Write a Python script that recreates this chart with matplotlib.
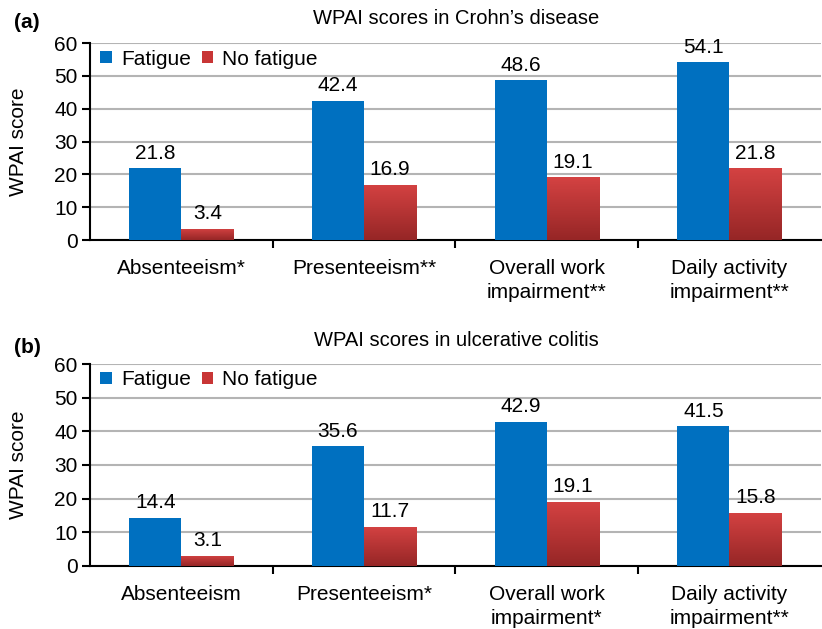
import matplotlib
matplotlib.use("Agg")
import matplotlib.pyplot as plt
import numpy as np
from matplotlib.colors import LinearSegmentedColormap

plt.rcParams['font.family'] = ['Liberation Sans', 'DejaVu Sans']

# data
cats_cd = ["Absenteeism*", "Presenteeism**", "Overall work\nimpairment**", "Daily activity\nimpairment**"]
fatigue_cd = [21.8, 42.4, 48.6, 54.1]
nofatigue_cd = [3.4, 16.9, 19.1, 21.8]

cats_uc = ["Absenteeism", "Presenteeism*", "Overall work\nimpairment*", "Daily activity\nimpairment**"]
fatigue_uc = [14.4, 35.6, 42.9, 41.5]
nofatigue_uc = [3.1, 11.7, 19.1, 15.8]

blue = "#0070c0"
red_cmap = LinearSegmentedColormap.from_list("redgrad", ["#962626", "#d44242"])
FS = 15


def panel(ax, cats, fat, nofat):
    x = np.arange(len(cats))
    w = 0.285
    b1 = ax.bar(x - w / 2, fat, w, color=blue, zorder=3, label="Fatigue")
    b2 = ax.bar(x + w / 2, nofat, w, color="#c83535", zorder=3, label="No fatigue")
    # gradient fill for red bars
    grad = np.linspace(0, 1, 100).reshape(-1, 1)
    for r in b2:
        x0, y0 = r.get_x(), r.get_y()
        im = ax.imshow(grad, cmap=red_cmap, aspect="auto", origin="lower",
                       extent=(x0, x0 + r.get_width(), y0, y0 + r.get_height()), zorder=4)
        im.set_clip_path(r)
    for r, v in zip(b1, fat):
        ax.annotate(f"{v}", (r.get_x() + r.get_width() / 2, v), xytext=(0, 4),
                    textcoords="offset points", ha="center", va="bottom", fontsize=FS)
    for r, v in zip(b2, nofat):
        ax.annotate(f"{v}", (r.get_x() + r.get_width() / 2, v), xytext=(0, 4),
                    textcoords="offset points", ha="center", va="bottom", fontsize=FS)

    ax.set_xlim(-0.5, len(cats) - 0.5)
    ax.set_ylim(0, 60)
    ax.set_yticks(range(0, 61, 10))
    ax.set_xticks(x)
    ax.set_xticklabels(cats, fontsize=FS, va="top", linespacing=1.32)
    ax.tick_params(axis="x", which="major", length=0, pad=13.5)
    ax.set_xticks(np.arange(0.5, len(cats) - 0.5, 1), minor=True)
    ax.tick_params(axis="x", which="minor", length=6, width=1.5, direction="out")
    ax.tick_params(axis="y", labelsize=FS, length=6, width=1.5, direction="out", pad=3)
    ax.set_ylabel("WPAI score", fontsize=FS)
    ax.yaxis.set_label_coords(-0.085, 0.5)
    ax.grid(axis="y", color="#b4b4b4", linewidth=1.5, zorder=0)
    ax.set_axisbelow(True)
    for s in ["top", "right"]:
        ax.spines[s].set_visible(False)
    for s in ["left", "bottom"]:
        ax.spines[s].set_linewidth(1.5)
    ax.legend(loc="upper left", frameon=False, fontsize=FS, handlelength=0.55, handleheight=0.55,
              handletextpad=0.45, columnspacing=0.5, ncol=2, borderaxespad=0.1,
              bbox_to_anchor=(0.0, 1.02))


fig = plt.figure(figsize=(8.22, 6.29), dpi=100)
ax1 = fig.add_axes([0.1095, 0.6184, 0.889, 0.3132])
ax2 = fig.add_axes([0.1095, 0.1002, 0.889, 0.3211])

panel(ax1, cats_cd, fatigue_cd, nofatigue_cd)
panel(ax2, cats_uc, fatigue_uc, nofatigue_uc)

# titles and panel letters
fig.text(456 / 822, 1 - 18 / 629, "WPAI scores in Crohn\u2019s disease", fontsize=14.5,
         ha="center", va="center")
fig.text(456 / 822, 1 - 341 / 629, "WPAI scores in ulcerative colitis", fontsize=14.5,
         ha="center", va="center")
fig.text(14 / 822, 1 - 22 / 629, "(a)", fontsize=15, fontweight="bold", ha="left", va="center")
fig.text(14 / 822, 1 - 347 / 629, "(b)", fontsize=15, fontweight="bold", ha="left", va="center")

fig.savefig("out.png", dpi=100)
